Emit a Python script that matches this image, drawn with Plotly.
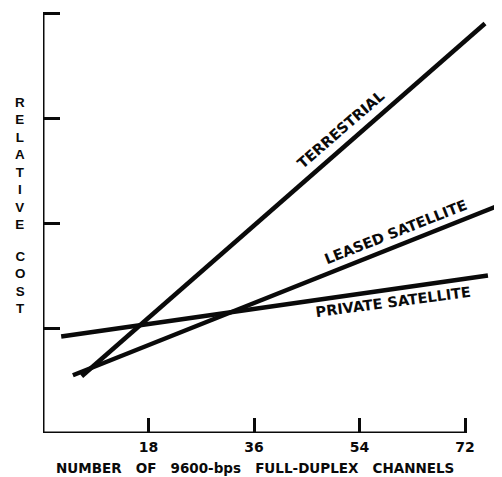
import plotly.graph_objects as go

# Data (x = number of channels, y = relative cost)
terrestrial_x = [6.6, 75.4]
terrestrial_y = [0.54, 3.90]
leased_x = [5.1, 78.3]
leased_y = [0.55, 2.18]
private_x = [3.1, 75.9]
private_y = [0.92, 1.50]

x_ticks = [18, 36, 54, 72]
x_tick_labels = ["18", "36", "54", "72"]
y_ticks = [1, 2, 3, 4]

FONT = "DejaVu Sans, Verdana, sans-serif"
FONT_NARROW = "Liberation Sans, Arial, Helvetica, sans-serif"
INK = "#0a0a0a"

fig = go.Figure()
line_style = dict(color=INK, width=4.5)
fig.add_trace(go.Scatter(x=terrestrial_x, y=terrestrial_y, mode="lines", line=line_style, name="TERRESTRIAL"))
fig.add_trace(go.Scatter(x=leased_x, y=leased_y, mode="lines", line=line_style, name="LEASED SATELLITE"))
fig.add_trace(go.Scatter(x=private_x, y=private_y, mode="lines", line=line_style, name="PRIVATE SATELLITE"))

# axis frame (x from 0 to 72, y from 0 to 4)
fig.add_shape(type="line", xref="x", yref="y", x0=0, x1=x_ticks[-1], y0=0, y1=0,
              line=dict(color=INK, width=3))
fig.add_shape(type="line", xref="x", yref="y", x0=0, x1=0, y0=0, y1=y_ticks[-1],
              line=dict(color=INK, width=3))

label_font = dict(family=FONT, size=14.5, color=INK, weight="bold")
fig.add_annotation(x=50.7, y=2.89, xref="x", yref="y", text="TERRESTRIAL",
                   showarrow=False, textangle=-41, font=label_font)
fig.add_annotation(x=60.2, y=1.91, xref="x", yref="y", text="LEASED SATELLITE",
                   showarrow=False, textangle=-21.5, font=label_font)
fig.add_annotation(x=59.7, y=1.25, xref="x", yref="y", text="PRIVATE SATELLITE",
                   showarrow=False, textangle=-7.5, font=label_font)

# axis titles
axis_font = dict(family=FONT_NARROW, size=13.4, color=INK, weight="bold")
fig.add_annotation(x=-0.050, y=0.633, xref="paper", yref="paper",
                   xanchor="center", yanchor="middle",
                   text="<br>".join("RELATIVE"),
                   showarrow=False, font=axis_font, align="center")
fig.add_annotation(x=-0.050, y=0.353, xref="paper", yref="paper",
                   xanchor="center", yanchor="middle",
                   text="<br>".join("COST"),
                   showarrow=False, font=axis_font, align="center")
sp = "&nbsp;" * 3
fig.add_annotation(x=0.462, y=-0.082, xref="paper", yref="paper",
                   xanchor="center", yanchor="middle",
                   text=sp.join(["NUMBER", "OF", "9600-bps", "FULL-DUPLEX", "CHANNELS"]),
                   showarrow=False, font=dict(family=FONT, size=13.5, color=INK, weight="bold"))

fig.update_xaxes(range=[0, 78.3], tickvals=x_ticks, ticktext=x_tick_labels,
                 ticks="inside", ticklen=15, tickwidth=3, tickcolor=INK,
                 ticklabelstandoff=4,
                 showline=False, showgrid=False, zeroline=False,
                 tickfont=dict(family=FONT, size=14, color=INK, weight="bold"))
fig.update_yaxes(range=[0, 4.048], tickvals=y_ticks, showticklabels=False,
                 ticks="inside", ticklen=17, tickwidth=3, tickcolor=INK,
                 showline=False, showgrid=False, zeroline=False)

# the page body adds an 8px offset; margins compensate for it
fig.update_layout(width=494, height=469, margin=dict(l=35, r=0, t=0, b=44),
                  paper_bgcolor="white", plot_bgcolor="white", showlegend=False)

fig.write_html("out.html")
